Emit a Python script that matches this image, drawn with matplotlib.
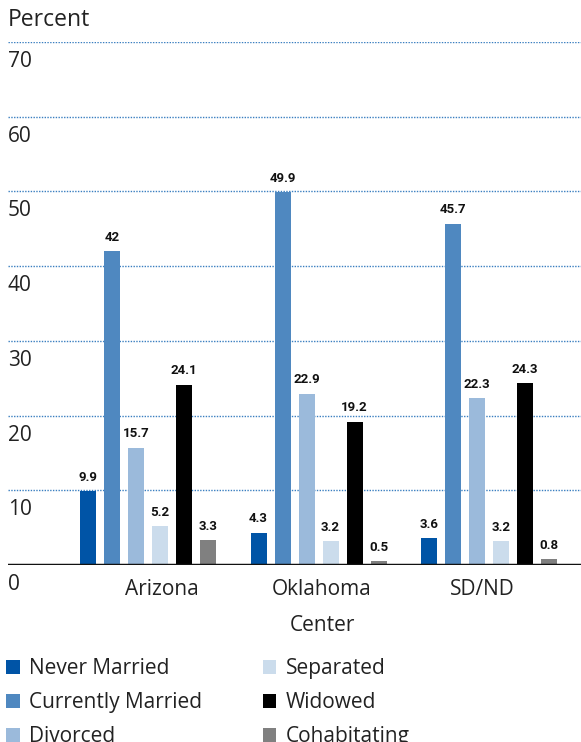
import matplotlib.pyplot as plt
import numpy as np

# 各中心婚姻状况占比（%）
centers = ["Arizona", "Oklahoma", "SD/ND"]
statuses = ["Never Married", "Currently Married", "Divorced",
            "Separated", "Widowed", "Cohabitating"]
never_married = [9.9, 4.3, 3.6]
currently_married = [42, 49.9, 45.7]
divorced = [15.7, 22.9, 22.3]
separated = [5.2, 3.2, 3.2]
widowed = [24.1, 19.2, 24.3]
cohabitating = [3.3, 0.5, 0.8]
yticks = [0, 10, 20, 30, 40, 50, 60, 70]

series = [never_married, currently_married, divorced, separated, widowed, cohabitating]
colors = ["#0054a6", "#4f88c0", "#9bbadb", "#cbdcec", "#000000", "#808080"]

plt.rcParams['font.family'] = ['Open Sans', 'DejaVu Sans']

fig = plt.figure(figsize=(5.81, 7.42), dpi=100)
ax = fig.add_axes([8 / 581, 1 - 565 / 742, 573 / 581, (565 - 42) / 742])

unit = 170.5
step = 24 / unit
width = 16 / unit
x = np.arange(len(centers))

for k, (vals, c) in enumerate(zip(series, colors)):
    pos = x + (k - 2.5) * step
    ax.bar(pos, vals, width=width, color=c, label=statuses[k], zorder=3)
    for p, v in zip(pos, vals):
        ax.text(p, v + 1.0, f"{v:g}", ha='center', va='bottom', fontsize=9.5,
                fontweight='bold', family=['Roboto', 'DejaVu Sans'], color='#111111')

ax.set_xlim(-140 / unit, 433 / unit)
ax.set_ylim(0, 70)

# 网格线：蓝色点线
for t in yticks[1:]:
    ax.axhline(t, color='#3a7fc0', lw=1.0, ls=(0, (1, 1)), zorder=1)
    ax.text(0, t - 1.2, str(t), transform=ax.get_yaxis_transform(),
            ha='left', va='top', fontsize=15, color='#222222')
ax.text(0, -1.2, "0", transform=ax.get_yaxis_transform(),
        ha='left', va='top', fontsize=15, color='#222222')

ax.axhline(0, color='#111111', lw=2.5, zorder=4, xmin=-0.004)
for s in ax.spines.values():
    s.set_visible(False)
ax.set_yticks([])
ax.set_xticks(x + np.array([14, 3.5, -7]) / unit)
ax.set_xticklabels(centers, fontsize=15, color='#222222')
ax.tick_params(axis='x', length=0, pad=10)
ax.set_xlabel("Center", fontsize=15, color='#222222', labelpad=4)
ax.xaxis.set_label_coords((322 - 8) / 573, -0.095)

fig.text(8 / 581, 1 - 20 / 742, "Percent", ha='left', va='center',
         fontsize=16.5, color='#222222')

handles, labels = ax.get_legend_handles_labels()
leg = fig.legend(handles, labels, loc='upper left', bbox_to_anchor=(0.0, 1 - 652 / 742),
                 ncol=2, frameon=False, fontsize=15, handlelength=0.65, handleheight=0.65,
                 handletextpad=0.45, columnspacing=2.9, labelspacing=0.62,
                 borderaxespad=0, borderpad=0.3)
for t in leg.get_texts():
    t.set_color('#222222')

fig.savefig("out.png", dpi=100)
